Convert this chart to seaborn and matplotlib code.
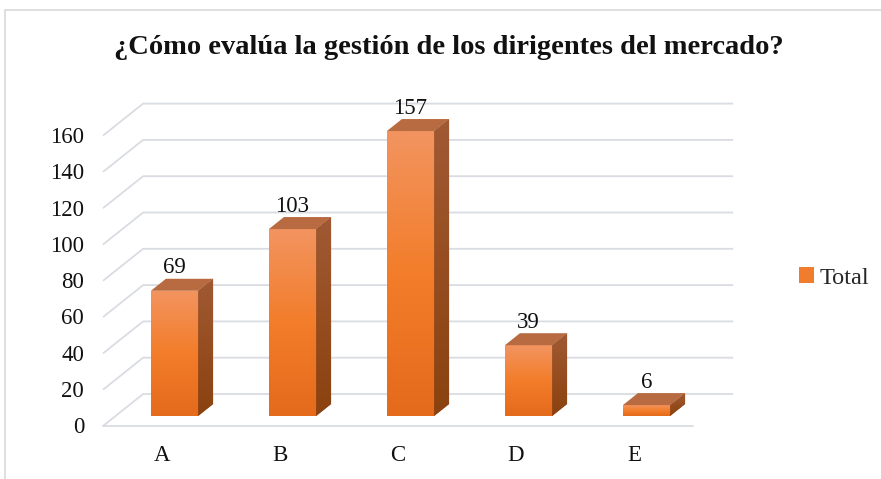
import numpy as np
import matplotlib
matplotlib.use("Agg")
import matplotlib.pyplot as plt
import seaborn as sns
import pandas as pd
from matplotlib.patches import Polygon, Rectangle, Patch
from matplotlib.colors import LinearSegmentedColormap

# ---- data ----
categories = ["A", "B", "C", "D", "E"]
values = [69, 103, 157, 39, 6]
y_ticks = [0, 20, 40, 60, 80, 100, 120, 140, 160]
series_name = "Total"
title = "¿Cómo evalúa la gestión de los dirigentes del mercado?"

sns.set_theme(style="white")
plt.rcParams['font.family'] = ['Liberation Serif', 'DejaVu Serif']

W, H = 881, 479
fig = plt.figure(figsize=(W / 100, H / 100), dpi=100)
fig.patch.set_facecolor("white")

# geometry (pixels) of the bar plane
px_cat, x0px = 118.0, 174.5
px_val, y0px = 1.815, 416.0
xlim = (-1, 5)
ylim = (-20, 180)
left = (x0px + xlim[0] * px_cat) / W
width = (xlim[1] - xlim[0]) * px_cat / W
bottom = (H - (y0px - ylim[0] * px_val)) / H
height = (ylim[1] - ylim[0]) * px_val / H
ax = fig.add_axes([left, bottom, width, height])

df = pd.DataFrame({"cat": categories, "val": values})
sns.barplot(data=df, x="cat", y="val", color="#F07C2E", width=0.4,
            saturation=1, ax=ax, zorder=3, linewidth=0)

# depth offsets in data units
fdx, fdy = -12.5 / px_cat, -10 / px_val      # front of floor
bdx, bdy = 27.6 / px_cat, 22 / px_val        # back wall
ddx, ddy = 15 / px_cat, 12 / px_val          # bar depth

grid_c = "#D9DCE2"
n = len(categories)
for v in y_ticks:
    ax.plot([-0.5 + fdx, -0.5 + bdx, n - 0.5 + bdx], [v + fdy, v + bdy, v + bdy],
            color=grid_c, lw=1.3, zorder=1, solid_capstyle="butt")
ax.plot([-0.5 + fdx, n - 0.5 + fdx], [fdy, fdy], color=grid_c, lw=1.3, zorder=1)

front_cmap = LinearSegmentedColormap.from_list(
    "front", ["#F29460", "#F37D2A", "#E46A1C"])
side_cmap = LinearSegmentedColormap.from_list(
    "side", ["#A05A34", "#964D20", "#8A4210"])
grad = np.linspace(0, 1, 256).reshape(-1, 1)

for p in list(ax.patches):
    x, w, h = p.get_x(), p.get_width(), p.get_height()
    im = ax.imshow(grad, extent=[x, x + w, 0, h], aspect="auto",
                   cmap=front_cmap, zorder=3.1, interpolation="bilinear")
    im.set_clip_path(p)
    # side face
    side = Polygon([[x + w, 0], [x + w, h], [x + w + ddx, h + ddy], [x + w + ddx, ddy]],
                   closed=True, facecolor="#934A1C", edgecolor="none", zorder=3)
    ax.add_patch(side)
    ims = ax.imshow(grad, extent=[x + w, x + w + ddx, 0, h + ddy], aspect="auto",
                    cmap=side_cmap, zorder=3.1, interpolation="bilinear")
    ims.set_clip_path(side)
    # top face
    top = Polygon([[x, h], [x + w, h], [x + w + ddx, h + ddy], [x + ddx, h + ddy]],
                  closed=True, facecolor="#B86A40", edgecolor="none", zorder=3.2)
    ax.add_patch(top)

# data labels
for i, v in enumerate(values):
    ax.text(i, v + ddy + 3.0, str(v), ha="center", va="baseline",
            fontsize=16.5, color="#111111", zorder=5)

# y tick labels (at the front edge)
for v in y_ticks:
    ax.text(-0.5 + fdx - 19 / px_cat, v + fdy - 1, str(v), ha="right", va="center",
            fontsize=16.5, color="#111111")

# category labels
for i, c in enumerate(categories):
    ax.text(i + fdx, -21.5, c, ha="center", va="center", fontsize=16.5, color="#111111")

ax.set_xlim(xlim)
ax.set_ylim(ylim)
ax.axis("off")

fig.text(449 / W, 1 - 47 / H, title, ha="center", va="center",
         fontsize=20.5, fontweight="bold", color="#111111")

fig.legend(handles=[Patch(facecolor="#F07C2E", edgecolor="none", label=series_name)],
           loc="center left", bbox_to_anchor=(799 / W, 1 - 278 / H), frameon=False,
           fontsize=17.5, handlelength=0.62, handleheight=0.62, handletextpad=0.22,
           borderaxespad=0, borderpad=0)

fig.patches.append(Rectangle((5 / W, -0.1), 1.2, (H - 10) / H + 0.1,
                             transform=fig.transFigure, fill=False,
                             edgecolor="#D9D9D9", lw=1.2))

fig.savefig("out.png", dpi=100)
